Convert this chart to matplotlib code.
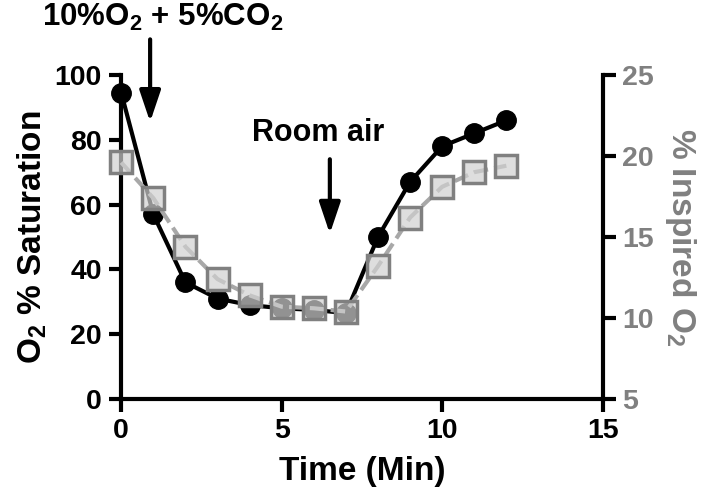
import matplotlib
matplotlib.use("Agg")
import matplotlib.pyplot as plt

time_min = [0, 1, 2, 3, 4, 5, 6, 7, 8, 9, 10, 11, 12]
o2_saturation = [94.5, 57, 36, 31, 29, 28, 27.5, 26.5, 50, 67, 78, 82, 86]
inspired_o2 = [19.6, 17.4, 14.4, 12.4, 11.4, 10.7, 10.6, 10.4, 13.2, 16.2, 18.1, 19.0, 19.4]
x_ticks = [0, 5, 10, 15]
left_ticks = [0, 20, 40, 60, 80, 100]
right_ticks = [5, 10, 15, 20, 25]

fam = "Liberation Sans"
plt.rcParams['font.family'] = [fam, "DejaVu Sans"]
plt.rcParams['font.weight'] = 'bold'
plt.rcParams['mathtext.fontset'] = 'custom'
plt.rcParams['mathtext.rm'] = fam + ':bold'
plt.rcParams['mathtext.it'] = fam + ':bold'
plt.rcParams['mathtext.bf'] = fam + ':bold'
plt.rcParams['mathtext.default'] = 'bf'

GRAY = "#808080"
fig = plt.figure(figsize=(7.09, 5.00), dpi=100)
ax = fig.add_axes([0.171, 0.202, 0.679, 0.648])
ax2 = ax.twinx()

ax.plot(time_min, o2_saturation, color="black", lw=3, marker="o", ms=14,
        mfc="black", mec="black", zorder=3, clip_on=False)
ax2.plot(time_min, inspired_o2, color="#a8a8a8", lw=3, ls=(0, (3.5, 1.5)), marker="s", ms=15.5,
         mfc=(0.82, 0.82, 0.82, 0.7), mec=GRAY, mew=2.5, zorder=3, clip_on=False)

ax.set_xlim(0, 15)
ax.set_ylim(0, 100)
ax2.set_ylim(5, 25)
ax.set_xticks(x_ticks)
ax.set_yticks(left_ticks)
ax2.set_yticks(right_ticks)

for a in (ax, ax2):
    for s in a.spines.values():
        s.set_linewidth(3)
    a.spines['top'].set_visible(False)
ax.spines['right'].set_visible(False)
ax2.spines['left'].set_visible(False)
ax2.spines['bottom'].set_visible(False)
ax2.spines['right'].set_color("black")

ax.tick_params(axis='both', width=3, length=9, labelsize=20.5, pad=5)
ax2.tick_params(axis='y', width=3, length=9, labelsize=20.5, colors=GRAY, pad=5)
ax2.tick_params(axis='y', color="black")

ax.set_xlabel("Time (Min)", fontsize=24, fontweight='bold', labelpad=8)
ax.set_ylabel("O$_2$ % Saturation", fontsize=24, fontweight='bold', labelpad=4)
ax2.set_ylabel("% Inspired O$_2$", fontsize=24, fontweight='bold', color=GRAY,
               rotation=270, labelpad=32)

arrow = dict(arrowstyle="-|>,head_length=0.95,head_width=0.32", lw=3, color="black",
             mutation_scale=20, shrinkA=0, shrinkB=0)
ax.annotate("", xy=(0.9, 85.5), xytext=(0.9, 111), xycoords='data',
            arrowprops=arrow, annotation_clip=False)
ax.text(1.3, 115, "10%O$_2$ + 5%CO$_2$", fontsize=22.5, fontweight='bold', ha='center', va='baseline')
ax.annotate("", xy=(6.5, 51), xytext=(6.5, 74), xycoords='data', arrowprops=arrow)
ax.text(6.13, 82, "Room air", fontsize=22, fontweight='bold', ha='center', va='center')

fig.savefig("out.png", dpi=100)
